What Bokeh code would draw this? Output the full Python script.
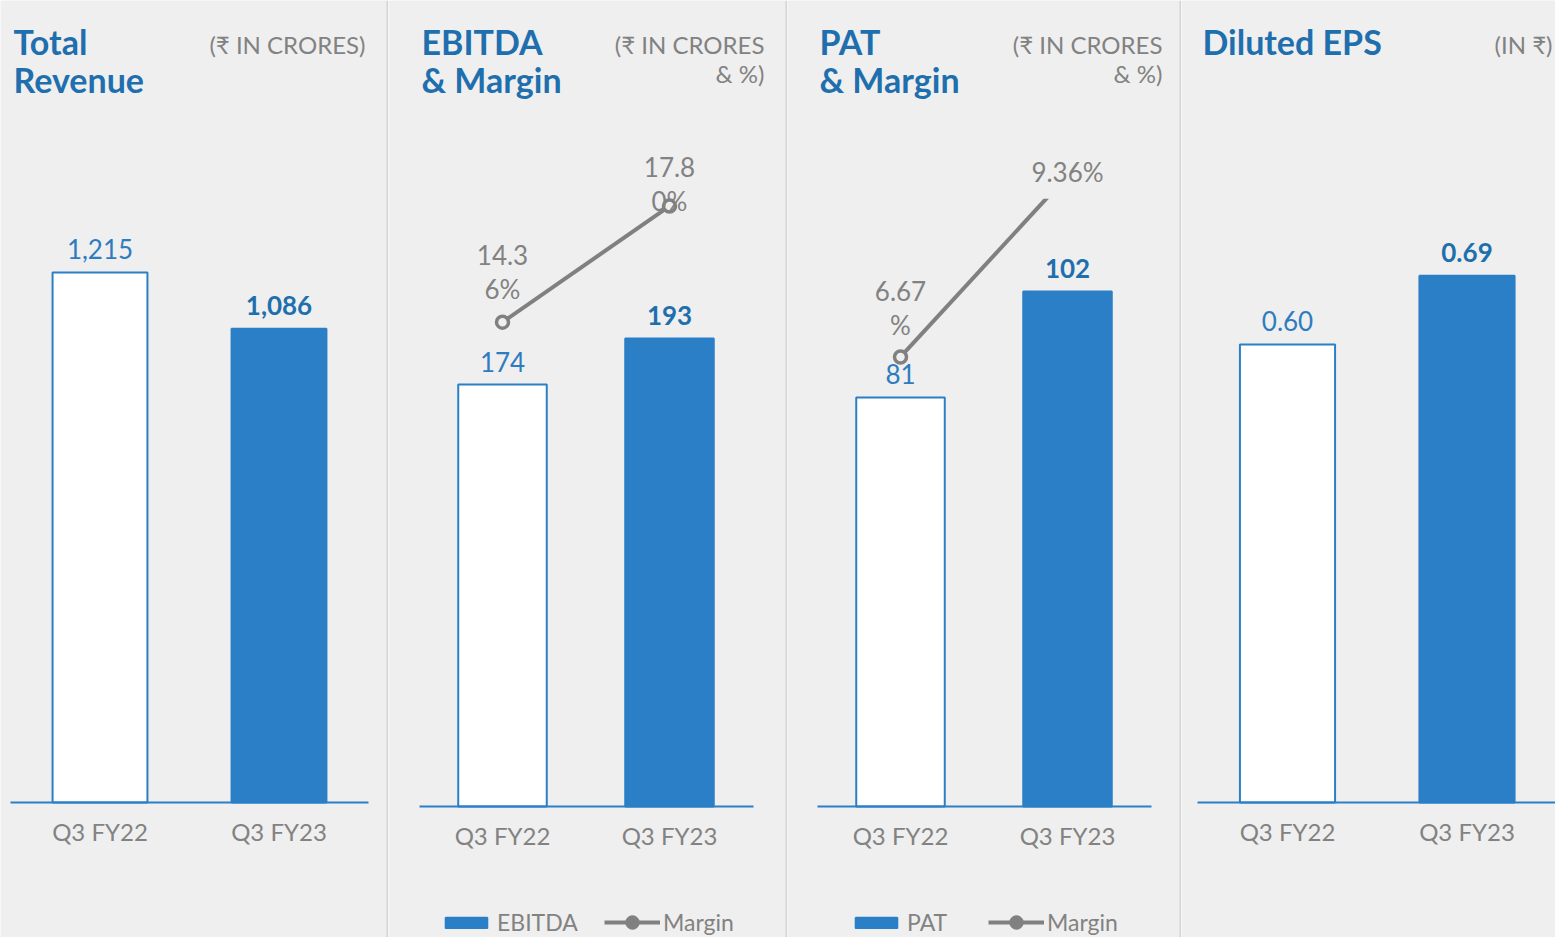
from bokeh.plotting import figure
from bokeh.models import (ColumnDataSource, Range1d, FixedTicker, Span, Label,
                          Legend, LegendItem)
from bokeh.layouts import row
from bokeh.embed import file_html
from bokeh.resources import INLINE
from bokeh.core.properties import value

# ---------------- data ----------------
categories = ["Q3 FY22", "Q3 FY23"]

revenue = [1215, 1086]
revenue_labels = ["1,215", "1,086"]

ebitda = [174, 193]
ebitda_labels = ["174", "193"]
ebitda_margin = [14.36, 17.80]
ebitda_margin_labels = ["14.3\n6%", "17.8\n0%"]

pat = [81, 102]
pat_labels = ["81", "102"]
pat_margin = [6.67, 9.36]
pat_margin_labels = ["6.67\n%", "9.36%"]

eps = [0.60, 0.69]
eps_labels = ["0.60", "0.69"]

# ---------------- style ----------------
BG = "#efefef"
BLUE = "#2a7fc6"
TITLE_BLUE = "#1f6fae"
VAL_BLUE = "#2e7cc0"
GREY = "#828282"
LINE_GREY = "#808080"
SEP = "#d4d4d4"
FONT = "Lato"

PAGE_Y0 = 0
FIG_H = 937
PAGE_Y1 = PAGE_Y0 + FIG_H


def make_panel(geom, values, value_labels, title_lines, unit_lines,
               margin=None, margin_labels=None, margin_dy=None, margin_bg=None,
               legend_names=None, separator=True):
    L, W, c0, s, yb, k = geom["L"], geom["W"], geom["c0"], geom["s"], geom["yb"], geom["k"]

    def X(px):
        return (px - c0) / s

    def Y(py):
        return (yb - py) / k

    p = figure(width=W, height=FIG_H,
               x_range=Range1d(X(L), X(L + W)),
               y_range=Range1d(Y(PAGE_Y1), Y(PAGE_Y0)),
               output_backend="svg", toolbar_location=None,
               y_axis_location=None, title=None, min_border=0,
               background_fill_color=BG, border_fill_color=BG,
               outline_line_color=None)
    p.xgrid.visible = False
    p.ygrid.visible = False

    xs = list(range(len(categories)))
    ax = p.xaxis[0]
    ax.fixed_location = 0
    ax.bounds = (-0.5, len(categories) - 0.5)
    ax.ticker = FixedTicker(ticks=xs)
    ax.major_label_overrides = {i: c for i, c in zip(xs, categories)}
    ax.axis_line_color = BLUE
    ax.axis_line_width = 2
    ax.major_tick_line_color = None
    ax.minor_tick_line_color = None
    ax.major_label_standoff = 8
    ax.major_label_text_font = FONT
    ax.major_label_text_font_size = "24px"
    ax.major_label_text_color = GREY

    src = ColumnDataSource(dict(
        x=xs, top=values, lab=value_labels,
        fill=["white", BLUE],
        fstyle=["normal", "bold"],
        tcol=[VAL_BLUE, TITLE_BLUE],
    ))
    bars = p.vbar(x="x", top="top", width=0.53, source=src,
                  fill_color="fill", line_color=BLUE, line_width=2)
    p.text(x="x", y="top", text="lab", source=src, y_offset=-23,
           text_align="center", text_baseline="middle",
           text_font=value(FONT), text_font_size="26px",
           text_font_style="fstyle", text_color="tcol")

    if margin is not None:
        km = geom["km"]

        def M(py):
            return (yb - py) / km

        p.extra_y_ranges = {"m": Range1d(M(PAGE_Y1), M(PAGE_Y0))}
        msrc = ColumnDataSource(dict(x=xs, y=margin, t=margin_labels,
                                     dy=margin_dy, bga=margin_bg))
        ln = p.line("x", "y", source=msrc, y_range_name="m",
                    line_color=LINE_GREY, line_width=4)
        p.scatter("x", "y", source=msrc, y_range_name="m", size=12,
                  fill_color=BG, line_color=LINE_GREY, line_width=3.5)
        # legend-only marker (size 0 in the plot; legend sizes it from its box)
        leg_mk = p.scatter("x", "y", source=msrc, y_range_name="m", size=0,
                           fill_color=LINE_GREY, line_color=LINE_GREY)
        p.text("x", "y", text="t", source=msrc, y_range_name="m",
               y_offset="dy", text_align="center", text_baseline="middle",
               text_font=value(FONT), text_font_size="26px",
               text_color=GREY, text_line_height=1.05,
               background_fill_color=BG, background_fill_alpha="bga",
               padding=11)

        lg = geom["legend"]
        bar_leg = Legend(items=[LegendItem(label=legend_names[0],
                                           renderers=[bars], index=1)],
                         location=(lg[0] - L, 1), orientation="horizontal",
                         glyph_width=52, glyph_height=13, label_standoff=5,
                         padding=0, margin=0, spacing=0, label_height=26,
                         background_fill_alpha=0, border_line_alpha=0,
                         label_text_font=FONT, label_text_font_size="23px",
                         label_text_color=GREY)
        m_leg = Legend(items=[LegendItem(label=legend_names[1],
                                         renderers=[ln, leg_mk])],
                       location=(lg[1] - L, -2), orientation="horizontal",
                       glyph_width=56, glyph_height=34, label_standoff=3,
                       padding=0, margin=0, spacing=0, label_height=26,
                       background_fill_alpha=0, border_line_alpha=0,
                       label_text_font=FONT, label_text_font_size="23px",
                       label_text_color=GREY)
        p.add_layout(bar_leg)
        p.add_layout(m_leg)

    # titles
    tx, tys = geom["title_x"], [41, 79]
    for t, ty in zip(title_lines, tys):
        p.add_layout(Label(x=X(tx), y=Y(ty), text=t, text_align="left",
                           text_baseline="middle", text_font=FONT,
                           text_font_size="34px", text_font_style="bold",
                           text_color=TITLE_BLUE))
    ux, uys = geom["unit_x"], [44, 73]
    for t, uy in zip(unit_lines, uys):
        p.add_layout(Label(x=X(ux), y=Y(uy), text=t, text_align="right",
                           text_baseline="middle", text_font=FONT,
                           text_font_size="24px", text_color=GREY))

    if separator:
        p.add_layout(Span(location=X(L + W - 1), dimension="height",
                          line_color=SEP, line_width=2))
    return p


g1 = dict(L=0, W=388, c0=99.5, s=179, yb=802, k=0.4363, title_x=13, unit_x=365)
g2 = dict(L=388, W=399, c0=502, s=167, yb=806, k=2.425, km=33.73,
          title_x=421, unit_x=764, legend=(440, 604))
g3 = dict(L=787, W=394, c0=900, s=167, yb=806, k=5.05, km=67.4,
          title_x=819, unit_x=1162, legend=(850, 988))
g4 = dict(L=1181, W=374, c0=1287, s=179.5, yb=802, k=763.5,
          title_x=1202, unit_x=1552)

p1 = make_panel(g1, revenue, revenue_labels, ["Total", "Revenue"],
                ["(₹ IN CRORES)"])
p2 = make_panel(g2, ebitda, ebitda_labels, ["EBITDA", "& Margin"],
                ["(₹ IN CRORES", "& %)"],
                margin=ebitda_margin, margin_labels=ebitda_margin_labels,
                margin_dy=[-50, -22], margin_bg=[0, 0],
                legend_names=["EBITDA", "Margin"])
p3 = make_panel(g3, pat, pat_labels, ["PAT", "& Margin"],
                ["(₹ IN CRORES", "& %)"],
                margin=pat_margin, margin_labels=pat_margin_labels,
                margin_dy=[-49, -4], margin_bg=[0, 1],
                legend_names=["PAT", "Margin"])
p4 = make_panel(g4, eps, eps_labels, ["Diluted EPS"], ["(IN ₹)"],
                separator=False)

layout = row(p1, p2, p3, p4)
open("out.html", "w").write(file_html(layout, INLINE))
